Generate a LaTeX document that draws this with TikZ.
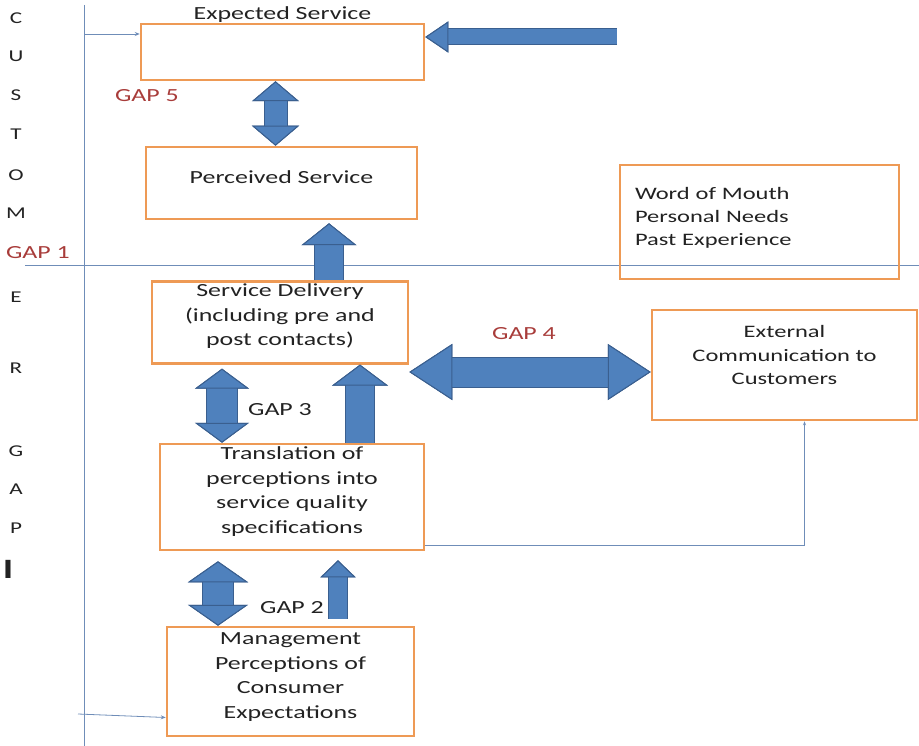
\documentclass[tikz,border=0pt]{standalone}
\usepackage{fontspec}
\setmainfont{Carlito}[FakeStretch=1.4]
\usepackage{tikz}
\usetikzlibrary{arrows.meta, positioning}
\definecolor{boxorange}{HTML}{EE9A55}
\definecolor{gapblue}{HTML}{4F81BD}
\definecolor{gapedge}{HTML}{3A5F8F}
\definecolor{gapred}{HTML}{A83C3A}
\definecolor{thinline}{HTML}{6F8DB8}
\definecolor{txt}{HTML}{222222}

\begin{document}
\begin{tikzpicture}[x=1pt, y=-1pt,
    every node/.style={font=\fontsize{18.5}{24.7}\selectfont, text=txt},
    box/.style={draw=boxorange, line width=2.5pt, align=center, inner sep=2pt},
    sideletter/.style={font=\fontsize{16.5}{19}\selectfont},
    gaplbl/.style={text=gapred},
    sepline/.style={draw=thinline, line width=0.8pt},
    thinarrow/.style={draw=thinline, line width=0.8pt, -{Stealth[length=5pt, width=4pt]}},
    fathead/.tip={Triangle[line width=1pt, color=gapedge, fill=gapblue]},
    fat/.style={draw=gapblue, line width=#1, preaction={draw=gapedge, line width=#1+2pt}},
  ]
    \useasboundingbox (0,0) rectangle (919,746);
    \draw[sepline] (84,5) -- (84,746);
    \draw[sepline] (25,265) -- (919,265);

    \foreach \ltr/\yy in {C/18, U/56, S/95, T/134, O/175, M/213, E/297, R/368, G/451, A/489, P/528}
        \node[sideletter] (side\ltr) at (16,\yy) {\ltr};
    \node[font=\bfseries\fontsize{28}{30}\selectfont] (sideI) at (8,569) {I};

    \node[box, minimum width=283pt, minimum height=56pt] (expected) at (282.5,52) {};
    \node (expectedlbl) at (282.5,15) {Expected Service};
    \node[box, minimum width=271pt, minimum height=72pt, text depth=12pt] (perceived) at (281.5,183) {Perceived Service};
    \node[box, minimum width=279pt, minimum height=114pt, align=left, text width=249pt, text depth=57.5pt,
          font=\fontsize{17.5}{23}\selectfont] (wordmouth) at (759.5,222)
          {Word of Mouth\\Personal Needs\\Past Experience};
    \node[box, minimum width=256pt, minimum height=81pt, text depth=15.5pt] (delivery) at (280,322.5)
          {Service Delivery\\(including pre and\\post contacts)};
    \node[box, minimum width=265pt, minimum height=110pt, text depth=20pt, font=\fontsize{17.5}{23.5}\selectfont]
          (extcomm) at (784.5,365) {External\\Communication to\\Customers};
    \node[box, minimum width=264pt, minimum height=106pt, text depth=14pt] (transl) at (292,497)
          {Translation of\\perceptions into\\service quality\\specifications};
    \node[box, minimum width=247pt, minimum height=109pt, text depth=12pt] (mgmt) at (290.5,681.5)
          {Management\\Perceptions of\\Consumer\\Expectations};

    \node[gaplbl] (lblgap5) at (147,96) {GAP 5};
    \node[gaplbl] (lblgap1) at (38,253) {GAP 1};
    \node[gaplbl] (lblgap4) at (524,334) {GAP 4};
    \node (lblgap3) at (280,410) {GAP 3};
    \node (lblgap2) at (292,608) {GAP 2};

    \coordinate (custin) at (84,34);
    \coordinate (mgmtin) at (78,714);
    \coordinate (wordin) at (617,37);
    \coordinate (gapfour) at ([yshift=-7pt]extcomm.west);
    \draw[thinarrow] (custin) -- (custin -| expected.west);
    \draw[thinarrow] (mgmtin) -- ([yshift=-36pt]mgmt.west);
    \draw[draw=thinline, line width=0.8pt, -{Stealth[length=4pt, width=3pt]}]
          ([yshift=-48pt]transl.east) -| ([xshift=20pt]extcomm.south);

    \draw[fat=15pt, -{fathead[width=31pt, length=23pt]}] (wordin) -- (wordin -| expected.east);
    \draw[fat=22pt, {fathead[width=47pt, length=20pt]}-{fathead[width=47pt, length=20pt]}]
          ([xshift=-7pt]expected.south) -- ([xshift=-6pt]perceived.north);
    \draw[fat=28pt, -{fathead[width=55pt, length=22pt]}, shorten >=3pt]
          ([xshift=49pt]delivery.north) -- ([xshift=47.5pt]perceived.south);
    \draw[fat=30pt, {fathead[width=54pt, length=20pt]}-{fathead[width=54pt, length=20pt]}, shorten <=4pt]
          ([xshift=-58pt]delivery.south) -- ([xshift=-70pt]transl.north);
    \draw[fat=28pt, -{fathead[width=56pt, length=21pt]}]
          ([xshift=68pt]transl.north) -- ([xshift=80pt]delivery.south);
    \draw[fat=29pt, {fathead[width=56pt, length=43pt]}-{fathead[width=56pt, length=43pt]}]
          (delivery.east |- gapfour) -- (gapfour);
    \draw[fat=30pt, {fathead[width=60pt, length=21pt]}-{fathead[width=60pt, length=21pt]}, shorten <=10pt]
          ([xshift=-74pt]transl.south) -- ([xshift=-72.5pt]mgmt.north);
    \draw[fat=18pt, -{fathead[width=35pt, length=17pt]}, shorten <=7pt, shorten >=9pt]
          ([xshift=47.5pt]mgmt.north) -- ([xshift=46pt]transl.south);
\end{tikzpicture}
\end{document}
